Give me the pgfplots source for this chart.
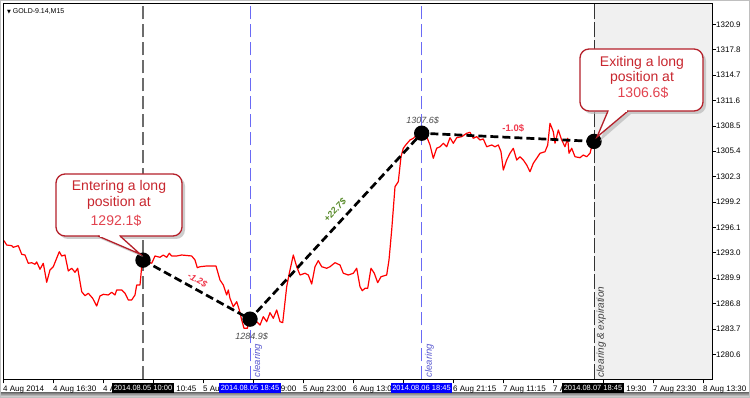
\documentclass[border=0pt]{standalone}
\usepackage{pgfplots}
\pgfplotsset{compat=1.18}
\usepackage{fontspec}
\setmainfont{Liberation Sans}
\newfontfamily\dejavu{DejaVu Sans}
\definecolor{callred}{HTML}{B5202A}
\definecolor{calltext}{HTML}{C8262E}
\definecolor{callnum}{HTML}{E2434F}
\definecolor{clearblue}{HTML}{6A6AF5}
\definecolor{greenlab}{HTML}{5A8C2C}
\definecolor{redlab}{HTML}{F0384C}
\definecolor{shade}{HTML}{F0F0F0}
\begin{document}
\begin{tikzpicture}[x=1pt,y=1pt]
\path[use as bounding box] (0,0) rectangle (750,398);
\fill[white] (0,0) rectangle (750,398);
\fill[shade] (0,0) rectangle (750,5);
\begin{axis}[
  at={(3pt,18.5pt)}, anchor=south west, scale only axis,
  width=709pt, height=376.5pt,
  xmin=3, xmax=712, ymin=1277.53, ymax=1323.5,
  clip=false, axis on top,
  axis line style={black, line width=0.8pt},
  tick align=outside, xtick pos=bottom, ytick pos=right, yticklabel pos=right,
  major tick length=4pt, tick style={black, line width=0.6pt},
  xtick={3,53,103,153,203,253,303,353,403,453,503,553,603,653,703},
  xticklabels={4 Aug 2014,4 Aug 16:30,4 Aug 20:15,5 Aug 10:45,5 Aug 15:15,5 Aug 19:00,5 Aug 23:00,6 Aug 13:00,6 Aug 17:30,6 Aug 21:15,7 Aug 11:15,7 Aug 15:45,7 Aug 19:30,7 Aug 23:30,8 Aug 13:30},
  xticklabel style={anchor=north west, xshift=-1pt, yshift=-1.5pt, inner sep=1pt, font=\fontsize{8}{9}\selectfont},
  ytick={1280.6,1283.7,1286.8,1289.9,1293.0,1296.1,1299.2,1302.3,1305.4,1308.5,1311.6,1314.7,1317.8,1320.9},
  yticklabels={1280.6,1283.7,1286.8,1289.9,1293.0,1296.1,1299.2,1302.3,1305.4,1308.5,1311.6,1314.7,1317.8,1320.9},
  yticklabel style={anchor=west, xshift=-1pt, inner sep=1pt, font=\fontsize{8}{9}\selectfont},
]
% shaded future region
\addplot[draw=none, fill=shade] coordinates {(594,1277.53) (711.6,1277.53) (711.6,1323.5) (594,1323.5)} -- cycle;
% vertical markers
\addplot[gray!85!black, line width=1.4pt, dash pattern=on 13pt off 5pt] coordinates {(143,1277.53) (143,1323.5)};
\addplot[clearblue, line width=0.9pt, dash pattern=on 13pt off 5pt] coordinates {(250,1277.53) (250,1323.5)};
\addplot[clearblue, line width=0.9pt, dash pattern=on 13pt off 5pt] coordinates {(421.7,1277.53) (421.7,1323.5)};
\addplot[black!80, line width=0.8pt, dash pattern=on 15pt off 3pt] coordinates {(594,1277.53) (594,1323.5)};
% price
\addplot[red, line width=1.2pt, line join=round] coordinates {
(4,1294.48) (6.7,1293.95) (11.7,1293.87) (13.3,1293.67) (18.3,1293.87) (21.7,1292.82) (25,1292.73) (28.3,1291.72) (31.7,1291.79) (35,1291.60) (36.7,1291.88) (40,1290.99) (43.3,1291.72) (46.7,1289.40) (50,1290.90) (53.3,1291.30) (59.3,1293.13) (61.7,1292.61) (65,1292.73) (68.3,1290.78) (71.7,1291.11) (75,1290.62) (77.7,1291.11) (81.7,1288.25) (85,1287.76) (88.3,1288.06) (92.7,1287.44) (96.7,1286.50) (100,1287.73) (103.3,1287.93) (108.3,1287.85) (111.7,1288.18) (115,1287.85) (116.7,1288.46) (121.7,1288.46) (125,1288.06) (128.3,1287.24) (131.7,1287.24) (135,1287.85) (136.7,1289.07) (140,1289.07) (141.7,1291.30) (143.3,1292.10)
(151.7,1291.72) (155,1292.61) (160,1292.45) (163.3,1292.73) (166.7,1292.45) (169.3,1292.94) (171.7,1292.61) (176.7,1292.61) (181.7,1292.73) (191.7,1292.61) (195,1292.12) (197.3,1291.18) (200,1291.30) (206.7,1291.39) (211.7,1291.39) (216,1291.39) (220,1289.68) (223.3,1289.07) (226.7,1287.85) (228.3,1288.46) (230,1287.44) (233.3,1286.42) (236.7,1287.03) (239.3,1286.02) (241.7,1284.80) (244,1283.78) (247.3,1283.78) (250,1285.00) (253.3,1284.18) (256.7,1284.59) (260,1284.18) (263.3,1285.20) (266.7,1284.59) (270,1285.69) (273.3,1285.00) (276.7,1286.02) (280,1284.59) (282.7,1284.47) (286.7,1288.86) (289.3,1290.50) (293.3,1292.73) (296.7,1291.30) (300,1290.29) (305,1290.50) (308.3,1290.29) (311.7,1289.19) (315,1291.30) (318.3,1292.04) (321.7,1291.30) (326.7,1291.11) (330,1291.30) (335,1291.79) (340,1291.51) (343.3,1290.50) (348.3,1290.29) (353.3,1290.50) (356.7,1291.11) (360,1288.86) (362.3,1288.37) (365,1288.67) (367.7,1288.67) (371,1291.11) (374.3,1290.50) (377.7,1289.35) (381,1290.08) (386.7,1290.29) (389,1292.12) (391.7,1295.78) (395,1301.07) (398.3,1301.68) (401,1304.73) (403.3,1305.76) (405.7,1306.16) (410,1306.77) (413.3,1306.98) (416.7,1307.38) (421.7,1307.60)
(426.7,1307.18) (430,1306.16) (433.3,1304.54) (436.7,1305.76) (440,1305.95) (443.3,1306.37) (446.7,1305.95) (450,1307.05) (453.3,1306.37) (456.7,1307.05) (461.7,1307.18) (466.7,1307.59) (470,1307.71) (473.3,1306.98) (476.7,1307.18) (480,1306.77) (483.3,1306.90) (486.7,1305.95) (491.7,1306.16) (495,1305.95) (498.3,1306.16) (501,1305.34) (503.3,1303.11) (506.7,1304.33) (510,1305.15) (513.3,1305.76) (516.7,1304.33) (520,1304.73) (523.3,1304.33) (526.7,1303.72) (530,1302.90) (533.3,1303.93) (536.7,1304.54) (540,1305.15) (545,1305.34) (547.7,1306.16) (550,1308.81) (553.3,1307.79) (555,1306.37) (558.3,1307.99) (561.7,1306.77) (565,1305.95) (567.7,1306.98) (569,1305.15) (571.7,1305.76) (575,1304.73) (580,1304.61) (583.3,1304.94) (586.7,1304.73) (590,1305.15) (591.7,1305.95) (593.3,1306.37) (594,1306.60)};
% trade path
\addplot[black, line width=2.7pt, dash pattern=on 8pt off 4pt, mark=*, mark size=6.3pt, mark options={solid, fill=black}] coordinates {(143,1292.1) (250,1284.9) (421.7,1307.6) (594,1306.6)};
% labels on the trade
\node[text=redlab, font=\fontsize{9}{10}\selectfont\bfseries\itshape, rotate=-29] at (axis cs:197.5,1289.68) {-1.2\$};
\node[text=greenlab, font=\fontsize{9}{10}\selectfont\bfseries\itshape, rotate=47] at (axis cs:335,1298.23) {+22.7\$};
\node[text=redlab, font=\fontsize{9.5}{10}\selectfont\bfseries] at (axis cs:513.3,1308.2) {-1.0\$};
\node[text=black!70, font=\fontsize{9}{10}\selectfont\itshape] at (axis cs:422.7,1309.13) {1307.6\$};
\node[text=black!70, font=\fontsize{9}{10}\selectfont\itshape] at (axis cs:251.7,1282.75) {1284.9\$};
% vertical texts
\node[text=clearblue!85!black, font=\fontsize{9.5}{10}\selectfont\itshape, rotate=90, anchor=north west, inner sep=0pt] at ([xshift=3pt,yshift=2pt]axis cs:250,1277.53) {clearing};
\node[text=clearblue!85!black, font=\fontsize{9.5}{10}\selectfont\itshape, rotate=90, anchor=north west, inner sep=0pt] at ([xshift=3pt,yshift=2pt]axis cs:421.7,1277.53) {clearing};
\node[text=black!75, font=\fontsize{10}{11}\selectfont\itshape, rotate=90, anchor=north west, inner sep=0pt] at ([xshift=2.5pt,yshift=2pt]axis cs:594,1277.53) {clearing \& expiration};
% title
\node[anchor=west, font=\fontsize{7}{8}\selectfont, inner sep=0pt] at ([xshift=4pt,yshift=-9pt]axis cs:3,1323.5) {{\dejavu\fontsize{5}{6}\selectfont ▼}\ GOLD-9.14,M15};
\end{axis}
% date boxes on the x axis
\tikzset{datebox/.style={font=\fontsize{7.5}{8}\selectfont, inner xsep=1.5pt, inner ysep=0pt, minimum height=10pt, text height=5.5pt, text depth=0pt, text=white}}
\node[datebox, fill=black] at (143,10.3) {2014.08.05 10:00};
\node[datebox, fill=blue] at (250,10.3) {2014.08.05 18:45};
\node[datebox, fill=blue] at (421.5,10.3) {2014.08.06 18:45};
\node[datebox, fill=black] at (593,10.3) {2014.08.07 18:45};
% entry callout
\fill[gray!55, opacity=0.7, rounded corners=9pt] (59,159) rectangle (185,221);
\fill[gray!55, opacity=0.7] (101,159) -- (143,141) -- (123,159) -- cycle;
\filldraw[fill=white, draw=callred, line width=1.3pt, rounded corners=9pt] (56,162) rectangle (182,224);
\filldraw[fill=white, draw=callred, line width=1.3pt, line join=miter] (98,162) -- (140,144) -- (120,162);
\fill[white] (99.5,161.3) rectangle (119,163.2);
\node[text=calltext, font=\fontsize{14}{15}\selectfont] at (119,211.3) {Entering a long};
\node[text=calltext, font=\fontsize{14}{15}\selectfont] at (119,195.3) {position at};
\node[text=callnum, font=\fontsize{14}{15}\selectfont] at (116,177) {1292.1\$};
% exit callout
\fill[gray!55, opacity=0.7, rounded corners=9pt] (583,284) rectangle (706,346);
\fill[gray!55, opacity=0.7] (611,284) -- (600,257) -- (631,284) -- cycle;
\filldraw[fill=white, draw=callred, line width=1.3pt, rounded corners=9pt] (580,287) rectangle (703,349);
\filldraw[fill=white, draw=callred, line width=1.3pt, line join=miter] (608,287) -- (597,261) -- (628,287);
\fill[white] (609,286.3) rectangle (627,288.2);
\node[text=calltext, font=\fontsize{14}{15}\selectfont] at (642,335.3) {Exiting a long};
\node[text=calltext, font=\fontsize{14}{15}\selectfont] at (642,320.3) {position at};
\node[text=callnum, font=\fontsize{14}{15}\selectfont] at (643,304.7) {1306.6\$};
% window frame
\draw[gray!50, line width=1pt] (0.5,0.5) rectangle (749.5,397.5);
\end{tikzpicture}
\end{document}
